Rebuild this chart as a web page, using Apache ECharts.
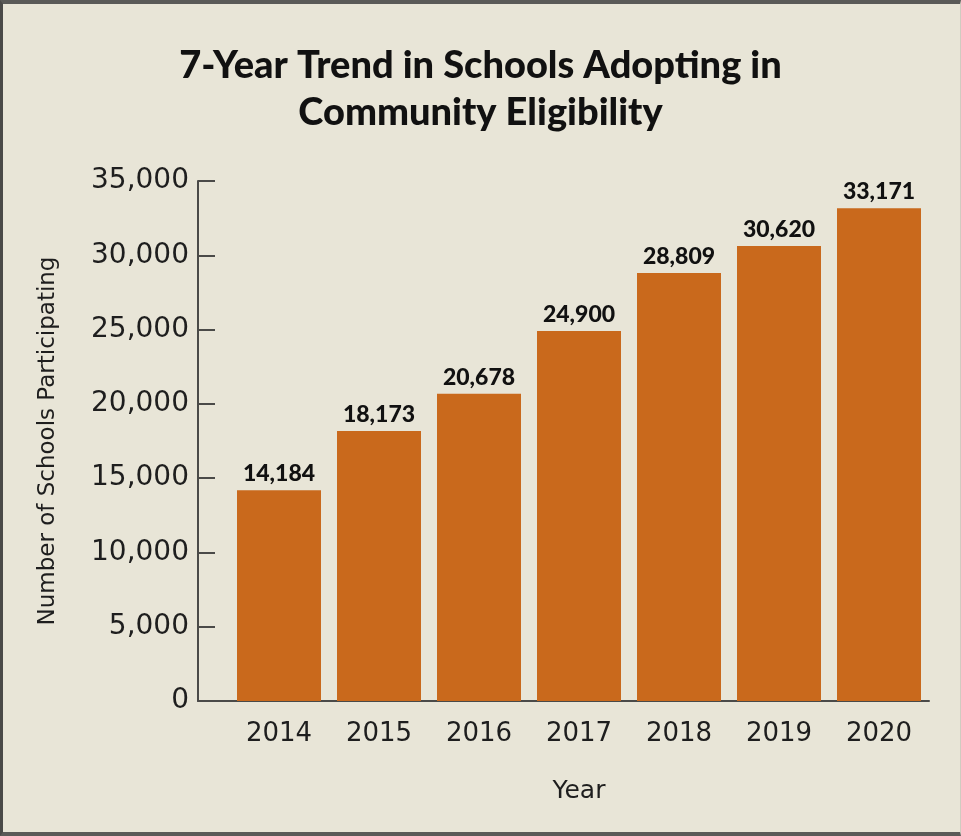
<!DOCTYPE html>
<html>
<head>
<meta charset="utf-8">
<script src="https://cdn.jsdelivr.net/npm/echarts@6/dist/echarts.min.js"></script>
<style>
html,body{margin:0;padding:0;background:#e8e5d7;}
#frame{position:absolute;left:0;top:0;width:961px;height:836px;box-sizing:border-box;border-left:3px solid #4a4a48;border-top:4px solid #5a5a58;border-bottom:4px solid #5a5a58;border-right:1px solid #cfccc0;}
#chart{position:absolute;left:0;top:0;width:961px;height:836px;}
</style>
</head>
<body>
<div id="chart"></div>
<div id="frame"></div>
<script>
const titleLines = ['7-Year Trend in Schools Adopting in', 'Community Eligibility'];
const years = ['2014', '2015', '2016', '2017', '2018', '2019', '2020'];
const schools = [14184, 18173, 20678, 24900, 28809, 30620, 33171];
const yTicks = [0, 5000, 10000, 15000, 20000, 25000, 30000, 35000];
const yAxisName = 'Number of Schools Participating';
const xAxisName = 'Year';

const fmt = v => v.toLocaleString('en-US');
const chart = echarts.init(document.getElementById('chart'), null, {renderer: 'canvas'});
chart.setOption({
  backgroundColor: '#e8e5d7',
  animation: false,
  title: {
    text: titleLines.join('\n'),
    left: 'center',
    top: 37,
    textStyle: {fontFamily: 'Lato', fontWeight: 900, fontSize: 38, color: '#111', lineHeight: 47}
  },
  grid: [
    {left: 229, right: 32, top: 181, bottom: 135},
    {left: 198, right: 32, top: 181, bottom: 135}
  ],
  xAxis: [
    {
      type: 'category', gridIndex: 0, data: years,
      axisLine: {show: false}, axisTick: {show: false},
      axisLabel: {fontFamily: 'DejaVu Sans', fontSize: 26, color: '#1e1e1e', margin: 20},
      name: xAxisName, nameLocation: 'middle', nameGap: 78,
      nameTextStyle: {fontFamily: 'DejaVu Sans', fontSize: 25, color: '#1e1e1e'}
    },
    {
      type: 'value', gridIndex: 1, min: 0, max: 1,
      axisLine: {show: true, lineStyle: {color: '#4a4a48', width: 2}},
      axisTick: {show: false}, axisLabel: {show: false}, splitLine: {show: false}
    }
  ],
  yAxis: [
    {
      type: 'value', gridIndex: 0, min: yTicks[0], max: yTicks[yTicks.length - 1], interval: 5000,
      offset: 31,
      axisLine: {show: true, lineStyle: {color: '#4a4a48', width: 2}},
      axisTick: {show: true, inside: true, length: 17, lineStyle: {color: '#4a4a48', width: 2}},
      splitLine: {show: false},
      axisLabel: {fontFamily: 'DejaVu Sans', fontSize: 28, color: '#1e1e1e', margin: 9, formatter: v => fmt(v)},
      name: yAxisName, nameLocation: 'middle', nameGap: 138, nameRotate: 90,
      nameTextStyle: {fontFamily: 'DejaVu Sans', fontSize: 23, color: '#1e1e1e'}
    },
    {type: 'value', gridIndex: 1, show: false}
  ],
  series: [{
    type: 'bar', xAxisIndex: 0, yAxisIndex: 0,
    data: schools, barWidth: 84,
    itemStyle: {color: '#c9691c'},
    label: {
      show: true, position: 'top', distance: 5,
      fontFamily: 'Lato', fontWeight: 900, fontSize: 23, color: '#111',
      formatter: p => fmt(p.value)
    }
  }]
});
</script>
</body>
</html>
